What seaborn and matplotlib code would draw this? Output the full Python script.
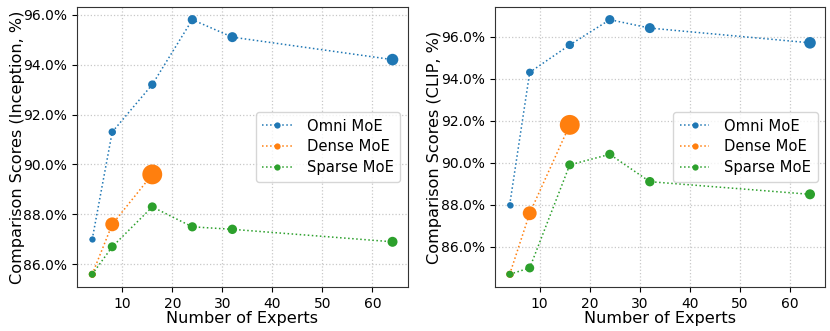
import numpy as np
import pandas as pd
import matplotlib
matplotlib.use('Agg')
import matplotlib.pyplot as plt
import seaborn as sns
from matplotlib.ticker import FuncFormatter, MultipleLocator

experts = [4, 8, 16, 24, 32, 64]
dense_experts = [4, 8, 16]

# Inception scores (%)
omni_inception = [87.0, 91.3, 93.2, 95.8, 95.1, 94.2]
dense_inception = [85.6, 87.6, 89.6]
sparse_inception = [85.6, 86.7, 88.3, 87.5, 87.4, 86.9]

# CLIP scores (%)
omni_clip = [88.0, 94.3, 95.6, 96.8, 96.4, 95.7]
dense_clip = [84.7, 87.6, 91.8]
sparse_clip = [84.7, 85.0, 89.9, 90.4, 89.1, 88.5]

# marker areas (pt^2)
omni_size = [13, 28, 36, 44, 52, 70]
dense_size = [25, 100, 205]
sparse_size = [25, 42, 42, 44, 46, 52]

series = ['Omni MoE', 'Dense MoE', 'Sparse MoE']
colors = ['#1f77b4', '#ff7f0e', '#2ca02c']

panels = [
    ('Comparison Scores (Inception, %)', [omni_inception, dense_inception, sparse_inception]),
    ('Comparison Scores (CLIP, %)', [omni_clip, dense_clip, sparse_clip]),
]
xs = [experts, dense_experts, experts]
sizes = [omni_size, dense_size, sparse_size]

fig = plt.figure(figsize=(8.3, 3.31), dpi=100)
axes = [fig.add_axes([0.093, 0.133, 0.398, 0.846]),
        fig.add_axes([0.596, 0.133, 0.398, 0.846])]

for ax, (ylabel, vals) in zip(axes, panels):
    for name, x, y, s, c in zip(series, xs, vals, sizes, colors):
        df = pd.DataFrame({'experts': x, 'score': y})
        sns.lineplot(data=df, x='experts', y='score', ax=ax, color=c, ls=':', lw=1.1,
                     marker='o', markersize=4.5, markeredgewidth=0, label=name)
        ax.scatter(df['experts'], df['score'], s=s, color=c, zorder=3, linewidths=0)
    ax.grid(True, ls=':', color='#c8c8c8', lw=0.9)
    ax.set_axisbelow(True)
    ax.xaxis.set_major_locator(MultipleLocator(10))
    ax.yaxis.set_major_formatter(FuncFormatter(lambda v, p: f'{v:.1f}%'))
    ax.set_xlabel('Number of Experts', fontsize=11.6, labelpad=0)
    ax.set_ylabel(ylabel, fontsize=11.6, labelpad=-1)
    ax.tick_params(labelsize=10)
    for sp in ax.spines.values():
        sp.set_color('#333333')
    ax.legend(loc='center right', fontsize=10.6, handlelength=2.0, borderpad=0.45,
              labelspacing=0.4, handletextpad=1.0)

fig.savefig('out.png', dpi=100)
